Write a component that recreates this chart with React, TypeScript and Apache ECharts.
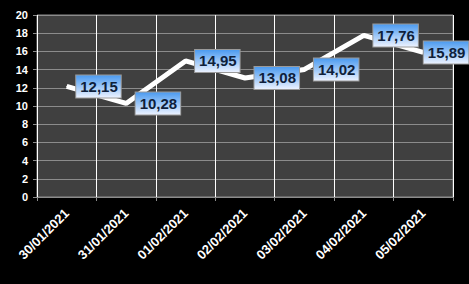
import React, { useEffect, useRef } from "react";
import * as echarts from "echarts";

const categories = ["30/01/2021", "31/01/2021", "01/02/2021", "02/02/2021", "03/02/2021", "04/02/2021", "05/02/2021"];
const values = [12.15, 10.28, 14.95, 13.08, 14.02, 17.76, 15.89];
const yMin = 0;
const yMax = 20;
const yStep = 2;

export default function App() {
  const ref = useRef<HTMLDivElement>(null);
  useEffect(() => {
    const chart = echarts.init(ref.current!, null, { renderer: "svg" });
    const data = values.map((v, i) =>
      i === values.length - 1 ? { value: v, label: { distance: 0 } } : { value: v }
    );
    chart.setOption({
      animation: false,
      backgroundColor: "#000000",
      grid: {
        left: 37,
        right: 16,
        top: 15,
        bottom: 87,
        show: true,
        backgroundColor: "#404040",
        borderColor: "#8c8c8c",
        borderWidth: 1,
      },
      xAxis: {
        type: "category",
        data: categories,
        boundaryGap: true,
        axisLine: { show: true, lineStyle: { color: "#8c8c8c", width: 1 } },
        axisTick: { show: true, length: 4, lineStyle: { color: "#8c8c8c" } },
        splitLine: { show: true, interval: 0, lineStyle: { color: "#ffffff", width: 1 } },
        axisLabel: {
          interval: 0,
          rotate: 45,
          margin: 14,
          color: "#ffffff",
          fontFamily: "Liberation Sans",
          fontWeight: "bold",
          fontSize: 13,
        },
      },
      yAxis: {
        type: "value",
        min: yMin,
        max: yMax,
        interval: yStep,
        axisLine: { show: false },
        axisTick: { show: true, length: 4, lineStyle: { color: "#8c8c8c" } },
        splitLine: { show: true, lineStyle: { color: "#8c8c8c", width: 1 } },
        axisLabel: {
          margin: 9,
          color: "#ffffff",
          fontFamily: "Liberation Sans",
          fontWeight: "bold",
          fontSize: 11,
        },
      },
      series: [
        {
          type: "line",
          data,
          symbol: "circle",
          symbolSize: 1,
          showSymbol: true,
          itemStyle: { color: "#ffffff" },
          lineStyle: { color: "#ffffff", width: 5 },
          labelLayout: { hideOverlap: false },
          label: {
            show: true,
            position: "right",
            distance: 9,
            formatter: (p: any) => Number(p.value).toFixed(2).replace(".", ","),
            fontFamily: "Liberation Sans",
            fontWeight: "bold",
            fontSize: 15,
            lineHeight: 15,
            color: "#0f1f3b",
            padding: [4, 3, 3, 4],
            borderColor: "#9a9a9a",
            borderWidth: 1,
            backgroundColor: {
              type: "linear",
              x: 0,
              y: 0,
              x2: 0,
              y2: 1,
              colorStops: [
                { offset: 0, color: "#4c9bf0" },
                { offset: 1, color: "#eaf1ff" },
              ],
            },
          },
          z: 3,
        },
      ],
    });
    return () => chart.dispose();
  }, []);
  return <div ref={ref} style={{ position: "fixed", left: 0, top: 0, width: 469, height: 284 }} />;
}
